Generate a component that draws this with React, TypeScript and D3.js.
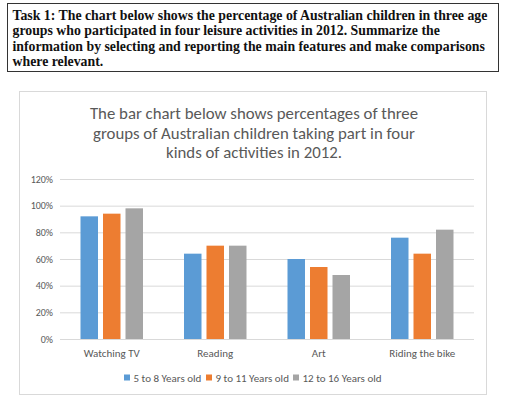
import React from "react";
import * as d3 from "d3";

const categories = ["Watching TV", "Reading", "Art", "Riding the bike"];
const seriesNames = ["5 to 8 Years old", "9 to 11 Years old", "12 to 16 Years old"];
const age5to8 = [92, 64, 60, 76];
const age9to11 = [94, 70, 54, 64];
const age12to16 = [98, 70, 48, 82];
const yTicks = [0, 20, 40, 60, 80, 100, 120];
const colors = ["#5B9BD5", "#ED7D31", "#A5A5A5"];

const taskLines = [
  "Task 1: The chart below shows the percentage of Australian children in three age",
  "groups who participated in four leisure activities in 2012. Summarize the",
  "information by selecting and reporting the main features and make comparisons",
  "where relevant.",
];
const titleLines = [
  "The bar chart below shows percentages of three",
  "groups of Australian children taking part in four",
  "kinds of activities in 2012.",
];

const font = "Carlito, Calibri, Lato, 'Open Sans', sans-serif";

export default function App() {
  const W = 512;
  const H = 407;
  const series = [age5to8, age9to11, age12to16];

  // plot area
  const x = d3.scaleBand().domain(categories).range([60, 474]).padding(0);
  const y = d3.scaleLinear().domain([0, 120]).range([339, 179]);
  const barW = 17.5;
  const step = 22.5;
  const legendX = [124, 206, 293];

  return (
    <svg
      width={W}
      height={H}
      style={{ position: "absolute", left: 0, top: 0, background: "#fff" }}
    >
      {/* task prompt box */}
      <rect x={7.5} y={3.5} width={491} height={68} fill="#fff" stroke="#333" strokeWidth={1} />
      {taskLines.map((t, i) => (
        <text
          key={i}
          x={12.5}
          y={20 + i * 15.4}
          fontFamily="'Liberation Serif', 'Times New Roman', serif"
          fontWeight="bold"
          fontSize={13.8}
          fill="#111"
        >
          {t}
        </text>
      ))}

      {/* chart frame */}
      <rect x={19.5} y={91.5} width={467} height={303} fill="#fff" stroke="#d9d9d9" strokeWidth={1} />
      {titleLines.map((t, i) => (
        <text
          key={i}
          x={254}
          y={119 + i * 19.5}
          textAnchor="middle"
          fontFamily={font}
          fontSize={16.8}
          fill="#595959"
        >
          {t}
        </text>
      ))}

      {/* gridlines and y labels */}
      {yTicks.map((t) => (
        <g key={t}>
          <line x1={60} x2={474} y1={y(t) + 0.5} y2={y(t) + 0.5} stroke="#d9d9d9" strokeWidth={1} />
          <text
            x={53}
            y={y(t) + 3.5}
            textAnchor="end"
            fontFamily={font}
            fontSize={10}
            fill="#595959"
          >
            {t}%
          </text>
        </g>
      ))}

      {/* bars */}
      {series.map((vals, si) =>
        vals.map((v, ci) => {
          const cx = (x(categories[ci]) as number) + x.bandwidth() / 2;
          const bx = cx + (si - 1) * step - barW / 2;
          return (
            <rect
              key={si + "-" + ci}
              x={bx}
              y={y(v)}
              width={barW}
              height={y(0) - y(v)}
              fill={colors[si]}
            />
          );
        })
      )}

      {/* category labels */}
      {categories.map((c) => (
        <text
          key={c}
          x={(x(c) as number) + x.bandwidth() / 2}
          y={356.5}
          textAnchor="middle"
          fontFamily={font}
          fontSize={11}
          fill="#595959"
        >
          {c}
        </text>
      ))}

      {/* legend */}
      {seriesNames.map((s, i) => (
        <g key={s}>
          <rect x={legendX[i]} y={374.5} width={6} height={6} fill={colors[i]} />
          <text x={legendX[i] + 9.5} y={381.5} fontFamily={font} fontSize={11} fill="#595959">
            {s}
          </text>
        </g>
      ))}
    </svg>
  );
}
